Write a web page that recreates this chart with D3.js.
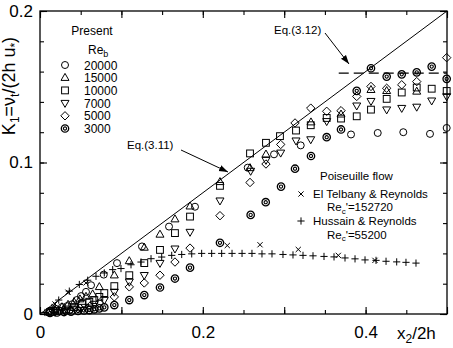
<!DOCTYPE html>
<html>
<head>
<meta charset="utf-8">
<script src="https://cdn.jsdelivr.net/npm/d3@7"></script>
<style>
body { margin: 0; background: #fff; }
svg { display: block; font-family: "Liberation Sans", Arial, sans-serif; }
</style>
</head>
<body>
<svg id="chart" width="453" height="348"></svg>
<script>
// tick labels
var xTickLabels = [0, 0.2, 0.4];
var yTickLabels = [0, 0.1, 0.2];

// present results, [x2/2h, K1]
var re20000 = [[.0123,.0020],[.0197,.0033],[.0270,.0046],[.0332,.0052],[.0393,.0064],[.0451,.0092],[.0504,.0118],[.0565,.0146],[.0627,.0190],[.0783,.0260],[.0946,.0336],[.1253,.0446],[.1585,.0577],[.1904,.0708],[.2552,.0966],[.2875,.1054],[.3203,.1113],[.3821,.1185],[.4149,.1195],[.4463,.1200],[.4791,.1189],[.4996,.1228]];
var re15000 = [[.0098,.0013],[.0184,.0026],[.0270,.0046],[.0344,.0062],[.0418,.0079],[.0491,.0098],[.0565,.0115],[.0647,.0131],[.0729,.0179],[.0913,.0256],[.1097,.0350],[.1281,.0439],[.1474,.0525],[.1658,.0626],[.1843,.0711],[.2211,.0872],[.2580,.0964],[.2776,.1054],[.3329,.1266],[.3698,.1318],[.4066,.1480],[.4259,.1473],[.4628,.1469]];
var re10000 = [[.0123,.0013],[.0221,.0020],[.0319,.0030],[.0418,.0046],[.0516,.0066],[.0606,.0081],[.0667,.0092],[.0729,.0113],[.0790,.0138],[.0913,.0184],[.1097,.0256],[.1281,.0336],[.1474,.0423],[.1658,.0534],[.1843,.0643],[.2211,.0846],[.2580,.1060],[.2776,.1130],[.2948,.1174],[.3145,.1211],[.3326,.1246],[.3522,.1294],[.3698,.1290],[.3891,.1305],[.4066,.1349],[.4259,.1420],[.4444,.1462],[.4628,.1495],[.4812,.1487],[.4996,.1472]];
var re7000 = [[.0184,.0013],[.0307,.0020],[.0430,.0033],[.0553,.0046],[.0667,.0066],[.0790,.0092],[.0913,.0146],[.1097,.0212],[.1281,.0256],[.1474,.0336],[.1658,.0431],[.1843,.0541],[.2211,.0748],[.2588,.0944],[.2776,.1016],[.2957,.1064],[.3145,.1144],[.3326,.1152],[.3522,.1272],[.3891,.1375],[.4066,.1405],[.4259,.1349],[.4444,.1359],[.4628,.1367],[.4812,.1408],[.4996,.1436]];
var re5000 = [[.0246,.0020],[.0369,.0026],[.0491,.0039],[.0614,.0052],[.0729,.0072],[.0913,.0113],[.1097,.0179],[.1281,.0205],[.1474,.0256],[.1658,.0343],[.1843,.0435],[.2211,.0649],[.2580,.0868],[.2776,.0990],[.2957,.1119],[.3133,.1261],[.3326,.1359],[.3522,.1338],[.3698,.1342],[.3891,.1436],[.4066,.1502],[.4259,.1490],[.4444,.1513],[.4628,.1534],[.4996,.1692]];
var re3000 = [[.0123,.0007],[.0209,.0010],[.0295,.0013],[.0381,.0016],[.0467,.0020],[.0541,.0023],[.0606,.0026],[.0667,.0031],[.0729,.0037],[.0790,.0044],[.0913,.0059],[.1097,.0092],[.1281,.0125],[.1474,.0175],[.1658,.0234],[.1843,.0306],[.2211,.0470],[.2588,.0654],[.2773,.0738],[.2961,.0841],[.3133,.0959],[.3329,.1043],[.3522,.1167],[.3698,.1218],[.3891,.1473],[.4066,.1622],[.4259,.1567],[.4444,.1582],[.4628,.1595],[.4812,.1633],[.4996,.1552]];

// Poiseuille flow
var elTelbany = [[.0184,.0066],[.0344,.0144],[.0565,.0205],[.2301,.0452],[.2703,.0457],[.3173,.0426],[.3665,.0387],[.4115,.0354]];
var hussain = [[.0061,.0010],[.0147,.0043],[.0230,.0092],[.0360,.0151],[.0483,.0195],[.0586,.0223],[.0688,.0249],[.0790,.0271],[.0893,.0293],[.0995,.0300],[.1118,.0325],[.1241,.0343],[.1364,.0365],[.1495,.0376],[.1618,.0387],[.1741,.0393],[.1864,.0397],[.1986,.0400],[.2109,.0400],[.2232,.0400],[.2359,.0400],[.2482,.0400],[.2604,.0400],[.2727,.0397],[.2850,.0397],[.2985,.0393],[.3108,.0390],[.3231,.0387],[.3354,.0384],[.3489,.0380],[.3612,.0377],[.3747,.0370],[.3870,.0364],[.3993,.0357],[.4128,.0354],[.4251,.0348],[.4382,.0344],[.4496,.0341],[.4619,.0336]];

// Eq.(3.11) and Eq.(3.12)
var eq311 = [[0, 0], [0.5, 0.2]];
var eq312 = [[0.367, 0.159], [0.5, 0.159]];

var presentRe = ["20000", "15000", "10000", "7000", "5000", "3000"];
var presentSeries = [re20000, re15000, re10000, re7000, re5000, re3000];
var presentShapes = ["circle", "triangleUp", "square", "triangleDown", "diamond", "bullseye"];

var svg = d3.select("#chart");
var x = d3.scaleLinear().domain([0, 0.5]).range([40, 447]);
var y = d3.scaleLinear().domain([0, 0.2]).range([314, 11]);

var r2 = function(d) { return Math.round(d * 100) / 100; };
var fmt = function(d) { return d === 0 ? "0" : d3.format(".1f")(d); };

svg.append("defs").append("marker")
  .attr("id", "arrow")
  .attr("viewBox", "0 0 10 10")
  .attr("refX", 10).attr("refY", 5)
  .attr("markerWidth", 9).attr("markerHeight", 9)
  .attr("markerUnits", "userSpaceOnUse")
  .attr("orient", "auto")
  .append("path").attr("d", "M0,1.5L10,5L0,8.5Z").attr("fill", "#000");

/* axes, ticks pointing inward on all four sides */
var xMinor = d3.range(0, 0.5001, 0.05), xMajor = d3.range(0, 0.5001, 0.1);
var yMinor = d3.range(0, 0.2001, 0.02), yMajor = d3.range(0, 0.2001, 0.1);

function addAxis(axis, tx, ty) {
  var g = svg.append("g").attr("transform", "translate(" + tx + "," + ty + ")").call(axis);
  g.select(".domain").remove();
  g.selectAll("line").attr("stroke", "#000").attr("stroke-width", 1.1);
  g.selectAll("text").attr("fill", "#000").style("font-size", "17px").style("font-family", "Liberation Sans, Arial, sans-serif");
  return g;
}
addAxis(d3.axisBottom(x).tickValues(xMinor).tickSize(-4).tickFormat(""), 0, 314);
addAxis(d3.axisBottom(x).tickValues(xMajor).tickSize(-7).tickPadding(12)
  .tickFormat(function(d) { return xTickLabels.indexOf(r2(d)) >= 0 ? fmt(r2(d)) : ""; }), 0, 314);
addAxis(d3.axisTop(x).tickValues(xMinor).tickSize(-4).tickFormat(""), 0, y(0.2));
addAxis(d3.axisTop(x).tickValues(xMajor).tickSize(-7).tickFormat(""), 0, y(0.2));
addAxis(d3.axisLeft(y).tickValues(yMinor).tickSize(-4).tickFormat(""), 40, 0);
addAxis(d3.axisLeft(y).tickValues(yMajor).tickSize(-7).tickPadding(7)
  .tickFormat(function(d) { return yTickLabels.indexOf(r2(d)) >= 0 ? fmt(r2(d)) : ""; }), 40, 0);
addAxis(d3.axisRight(y).tickValues(yMinor).tickSize(-4).tickFormat(""), 447, 0);
addAxis(d3.axisRight(y).tickValues(yMajor).tickSize(-7).tickFormat(""), 447, 0);

svg.append("rect")
  .attr("x", x(0)).attr("y", y(0.2))
  .attr("width", x(0.5) - x(0)).attr("height", y(0) - y(0.2))
  .attr("fill", "none").attr("stroke", "#000").attr("stroke-width", 1.3);

/* equations */
var line = d3.line().x(function(d) { return x(d[0]); }).y(function(d) { return y(d[1]); });
svg.append("path").attr("d", line(eq311)).attr("fill", "none").attr("stroke", "#000").attr("stroke-width", 1);
svg.append("path").attr("d", line(eq312)).attr("fill", "none").attr("stroke", "#000")
  .attr("stroke-width", 1.1).attr("stroke-dasharray", "10,5");

/* markers */
function drawMarker(g, shape, cx, cy) {
  var s = g.append("g").attr("transform", "translate(" + cx + "," + cy + ")")
    .attr("fill", "none").attr("stroke", "#000").attr("stroke-width", 1);
  if (shape == "circle") s.append("circle").attr("r", 3.5);
  else if (shape == "square") s.append("rect").attr("x", -3.4).attr("y", -3.4).attr("width", 6.8).attr("height", 6.8);
  else if (shape == "triangleUp") s.append("path").attr("d", "M0,-4.3L4,2.7L-4,2.7Z");
  else if (shape == "triangleDown") s.append("path").attr("d", "M0,4.3L4,-2.7L-4,-2.7Z");
  else if (shape == "diamond") s.append("path").attr("d", "M0,-4.2L4.2,0L0,4.2L-4.2,0Z");
  else if (shape == "bullseye") {
    s.append("circle").attr("r", 3.7).attr("stroke-width", 1.3);
    s.append("circle").attr("r", 1.6).attr("stroke-width", 1.1);
  }
  else if (shape == "cross") s.append("path").attr("d", "M-2.6,-2.6L2.6,2.6M-2.6,2.6L2.6,-2.6");
  else if (shape == "plus") s.append("path").attr("d", "M-3.6,0L3.6,0M0,-3.6L0,3.6");
}

var pts = svg.append("g");
presentSeries.forEach(function(ser, i) {
  ser.forEach(function(d) { drawMarker(pts, presentShapes[i], x(d[0]), y(d[1])); });
});
elTelbany.forEach(function(d) { drawMarker(pts, "cross", x(d[0]), y(d[1])); });
hussain.forEach(function(d) { drawMarker(pts, "plus", x(d[0]), y(d[1])); });

/* legend: present */
var leg = svg.append("g").style("font-size", "12px").attr("fill", "#000");
leg.append("text").attr("x", 92).attr("y", 35).attr("text-anchor", "middle").text("Present");
var reT = leg.append("text").attr("x", 88).attr("y", 54);
reT.append("tspan").text("Re");
reT.append("tspan").attr("dy", 3).style("font-size", "9px").text("b");
presentRe.forEach(function(r, i) {
  var yy = 65 + i * 12.7;
  drawMarker(leg, presentShapes[i], 65, yy);
  leg.append("text").attr("x", 84).attr("y", yy + 4.5).text(r);
});

/* legend: Poiseuille flow */
var leg2 = svg.append("g").style("font-size", "11.5px").attr("fill", "#000");
leg2.append("text").attr("x", 320).attr("y", 180).text("Poiseuille flow");
drawMarker(leg2, "cross", 301, 194);
leg2.append("text").attr("x", 313).attr("y", 197.5).text("El Telbany & Reynolds");
var t1 = leg2.append("text").attr("x", 327).attr("y", 211);
t1.append("tspan").text("Re");
t1.append("tspan").attr("dy", 2.5).style("font-size", "8px").text("c");
t1.append("tspan").attr("dy", -2.5).text("'=152720");
drawMarker(leg2, "plus", 301, 221);
leg2.append("text").attr("x", 313).attr("y", 225.2).text("Hussain & Reynolds");
var t2 = leg2.append("text").attr("x", 327).attr("y", 238.5);
t2.append("tspan").text("Re");
t2.append("tspan").attr("dy", 2.5).style("font-size", "8px").text("c");
t2.append("tspan").attr("dy", -2.5).text("'=55200");

/* annotations */
svg.append("text").attr("x", 127).attr("y", 149).style("font-size", "11.5px").text("Eq.(3.11)");
svg.append("line").attr("x1", 181).attr("y1", 150).attr("x2", 228).attr("y2", 172)
  .attr("stroke", "#000").attr("stroke-width", 1).attr("marker-end", "url(#arrow)");
svg.append("text").attr("x", 274).attr("y", 34).style("font-size", "11.5px").text("Eq.(3.12)");
svg.append("line").attr("x1", 325).attr("y1", 33).attr("x2", 349).attr("y2", 64)
  .attr("stroke", "#000").attr("stroke-width", 1).attr("marker-end", "url(#arrow)");

/* axis titles */
var xt = svg.append("text").attr("x", 397).attr("y", 339).style("font-size", "17px");
xt.append("tspan").text("x");
xt.append("tspan").attr("dy", 4).style("font-size", "12px").text("2");
xt.append("tspan").attr("dy", -4).text("/2h");

var yt = svg.append("text").attr("transform", "translate(15,86) rotate(-90)")
  .attr("text-anchor", "middle").style("font-size", "18px");
yt.append("tspan").text("K");
yt.append("tspan").attr("dy", 4).style("font-size", "12px").text("1");
yt.append("tspan").attr("dy", -4).text("=ν");
yt.append("tspan").attr("dy", 4).style("font-size", "12px").text("t");
yt.append("tspan").attr("dy", -4).text("/(2h u");
yt.append("tspan").attr("dy", 4).style("font-size", "12px").text("*");
yt.append("tspan").attr("dy", -4).text(")");
</script>
</body>
</html>
